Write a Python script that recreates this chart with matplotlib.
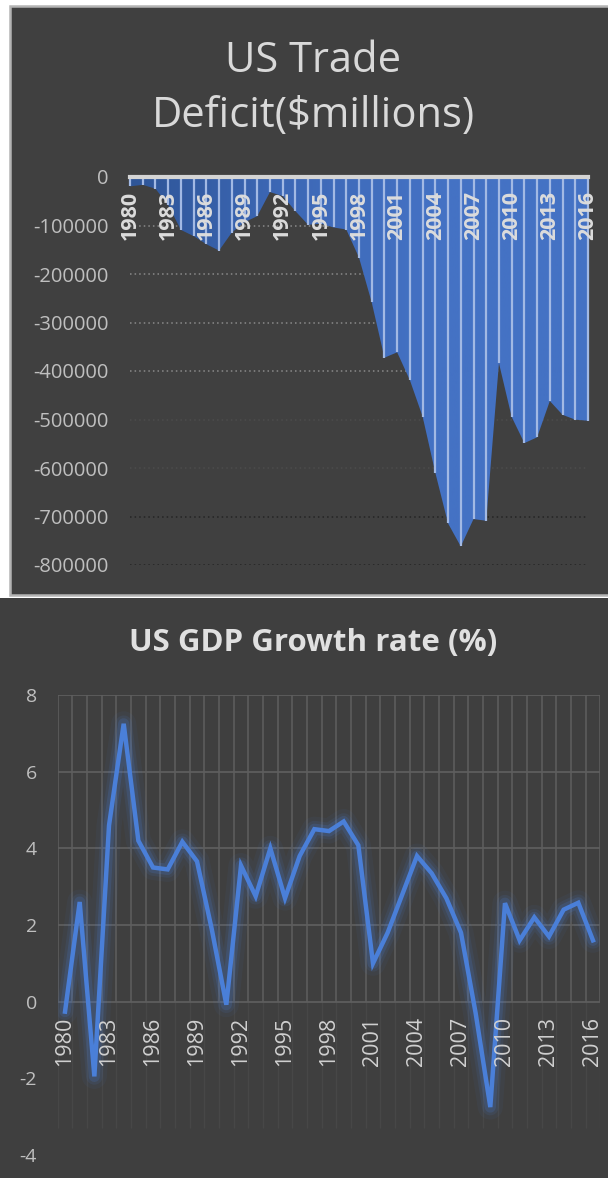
import matplotlib
matplotlib.use("Agg")
import matplotlib.pyplot as plt
import matplotlib.patches as patches
import matplotlib.transforms as mtransforms
from matplotlib.colors import LinearSegmentedColormap
import numpy as np

plt.rcParams['font.family'] = ['Open Sans', 'DejaVu Sans']

years = list(range(1980, 2017))
tick_years = years[::3]

# US trade balance, $ millions
trade_balance = [-19407, -16172, -24156, -57767, -109072, -121880, -138538,
                 -151684, -114566, -93141, -80864, -31135, -39212, -70311,
                 -98493, -96384, -104065, -108273, -166140, -258617, -372517,
                 -361511, -418955, -493890, -609883, -714245, -761716, -705375,
                 -708726, -383774, -494658, -548625, -536773, -461876, -490336,
                 -500361, -502511]

# US real GDP growth, %
gdp_growth = [-0.26, 2.6, -1.95, 4.6, 7.25, 4.2, 3.5, 3.45, 4.17, 3.66, 1.9,
              -0.08, 3.55, 2.75, 4.0, 2.7, 3.8, 4.5, 4.45, 4.7, 4.08, 1.0, 1.8,
              2.8, 3.8, 3.35, 2.7, 1.8, -0.3, -2.75, 2.57, 1.6, 2.2, 1.7, 2.4,
              2.58, 1.6]

trade_ticks = list(range(0, -800001, -100000))
gdp_ticks = [-4, -2, 0, 2, 4, 6, 8]

W, H = 608, 1178
fig = plt.figure(figsize=(W / 100, H / 100), dpi=100, facecolor='white')


def fx(px):
    return px / W


def fy(py):
    return 1 - py / H


# panel backgrounds (behind the axes)
fig.add_artist(patches.Rectangle((fx(10), fy(595)), fx(610), 589 / H,
                                 transform=fig.transFigure, facecolor='#404040',
                                 edgecolor='#b4b4b4', lw=1.8, zorder=-10))
fig.add_artist(patches.Rectangle((fx(-2), fy(1180)), fx(614), 582 / H,
                                 transform=fig.transFigure, facecolor='#3f3f3f',
                                 edgecolor='none', zorder=-10))

# ---- top: trade deficit area chart
ax1 = fig.add_axes([fx(130), fy(565), 458 / W, 388 / H])
ax1.set_facecolor('none')
for s in ax1.spines.values():
    s.set_visible(False)

grid_cols = ['#8a8a8a'] * 4 + ['#4c4c4c'] * 2 + ['#242424'] * 2
ax1.hlines(trade_ticks[1:], years[0], years[-1], colors=grid_cols,
           linestyles=(0, (1, 2)), lw=1.1, zorder=1)

poly = ax1.fill_between(years, trade_balance, 0, facecolor='none',
                        edgecolor='none', zorder=2)
cmap = LinearSegmentedColormap.from_list('area', ['#2e5597', '#3d68b6', '#4472c4', '#4472c4'])
grad = np.linspace(0, 1, 256).reshape(1, -1)
im = ax1.imshow(grad, extent=[years[0], years[-1], -800000, 0], aspect='auto',
                cmap=cmap, zorder=2)
im.set_clip_path(poly.get_paths()[0], transform=ax1.transData)

ax1.vlines(years, trade_balance, 0, colors='#a2b9e4', lw=1.6, zorder=3,
           clip_on=False)
ax1.axhline(0, color='#d4d4d4', lw=3, zorder=4, clip_on=False)

ax1.set_xlim(years[0], years[-1])
ax1.set_ylim(-800000, 0)
ax1.set_xticks([])
ax1.set_yticks(trade_ticks)
ax1.set_yticklabels([str(v) for v in trade_ticks])
ax1.tick_params(axis='y', length=0, pad=15.5, labelsize=14.5, labelcolor='#bfbfbf')

off1 = mtransforms.offset_copy(ax1.transData, x=0, y=-14, units='dots')
for yr in tick_years:
    ax1.text(yr, 0, str(yr), rotation=90, ha='center', va='top', transform=off1,
             fontsize=15.5, fontweight='bold', color='#dcdcdc', zorder=5)

fig.text(fx(313), fy(88.5), "US Trade\nDeficit($millions)", ha='center',
         va='center', fontsize=30, color='#d9d9d9', linespacing=1.38)

# ---- bottom: GDP growth line chart
ax2 = fig.add_axes([fx(57.7), fy(1155), 542.6 / W, 460 / H])
ax2.set_facecolor('none')
for s in ax2.spines.values():
    s.set_visible(False)

ax2.set_xlim(1979.5, 2016.5)
ax2.set_ylim(-4, 8)
edges = np.arange(1979.5, 2017, 1.0)
ax2.vlines(edges, 0, 8, colors='#5c5c5c', lw=1.2, zorder=1)
ax2.vlines(edges, -3.3, 0, colors='#474747', lw=1.0, zorder=1)
ax2.hlines([0, 2, 4, 6, 8], 1979.5, 2016.5, colors='#5e5e5e', lw=1.3, zorder=1)

for lw, a in [(18, 0.06), (12, 0.1), (8, 0.18)]:
    ax2.plot(years, gdp_growth, color='#4a7fd8', lw=lw, alpha=a,
             solid_joinstyle='round', solid_capstyle='round', zorder=2)
ax2.plot(years, gdp_growth, color='#4a7fd8', lw=3.2, zorder=3,
         solid_joinstyle='miter')

ax2.set_xticks([])
ax2.set_yticks(gdp_ticks)
ax2.set_yticklabels([str(v) for v in gdp_ticks])
ax2.tick_params(axis='y', length=0, pad=15, labelsize=14, labelcolor='#bfbfbf')

off2 = mtransforms.offset_copy(ax2.transData, x=0, y=-15, units='dots')
for yr in tick_years:
    ax2.text(yr, 0, str(yr), rotation=90, ha='center', va='top', transform=off2,
             fontsize=15.5, color='#d0d0d0', zorder=5)

fig.text(fx(313), fy(643), 'US GDP Growth rate (%)', ha='center', va='center',
         fontsize=22.5, fontweight='bold', color='#e0e0e0')

fig.savefig('out.png', dpi=100, facecolor='white')
